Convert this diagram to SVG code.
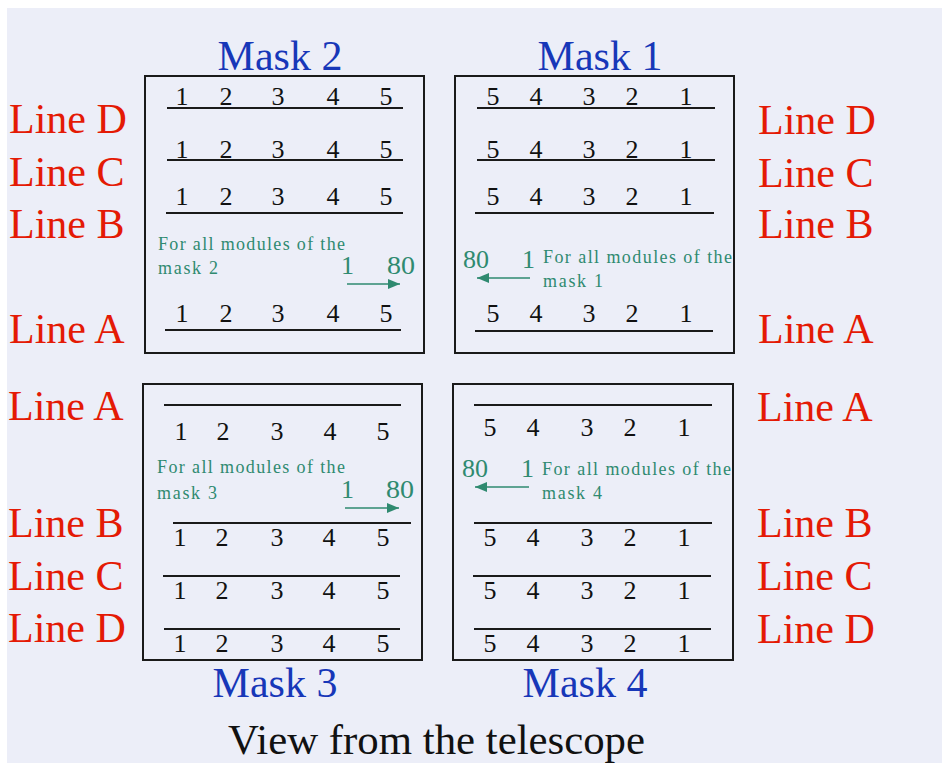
<svg xmlns="http://www.w3.org/2000/svg" width="942" height="763" viewBox="0 0 942 763">
<defs>
<style>
.lbl{font-family:"Liberation Serif","Times New Roman",serif;font-size:42px;fill:#e41a05}
.title{font-family:"Liberation Serif","Times New Roman",serif;font-size:42px;fill:#1737b8}
.d{font-family:"Liberation Serif","Times New Roman",serif;font-size:26px;fill:#111;text-anchor:middle}
.g{font-family:"Liberation Serif","Times New Roman",serif;font-size:18px;fill:#2f8a70}
.gn{font-family:"Liberation Serif","Times New Roman",serif;font-size:26px;fill:#2f8a70}
.box{fill:none;stroke:#1a1a1a;stroke-width:2}
.ln{stroke:#1a1a1a;stroke-width:2}
.arr{stroke:#2f8a70;stroke-width:1.5;fill:none}
</style>
<marker id="ah" viewBox="0 0 12 10" refX="12" refY="5" markerWidth="12" markerHeight="10" markerUnits="userSpaceOnUse" orient="auto">
<path d="M0,0 L12,5 L0,10 Z" fill="#2f8a70"/>
</marker>
</defs>
<rect x="0" y="0" width="942" height="763" fill="#ffffff"/>
<rect x="7" y="8" width="935" height="755" fill="#eceef8"/>

<g id="labels-left-top">
<text class="lbl" x="9" y="133">Line D</text>
<text class="lbl" x="9" y="186">Line C</text>
<text class="lbl" x="9" y="238">Line B</text>
<text class="lbl" x="9" y="343">Line A</text>
</g>
<g id="labels-right-top">
<text class="lbl" x="758" y="134">Line D</text>
<text class="lbl" x="758" y="187">Line C</text>
<text class="lbl" x="758" y="238">Line B</text>
<text class="lbl" x="758" y="343">Line A</text>
</g>
<g id="labels-left-bottom">
<text class="lbl" x="8" y="420">Line A</text>
<text class="lbl" x="8" y="537">Line B</text>
<text class="lbl" x="8" y="590">Line C</text>
<text class="lbl" x="8" y="642">Line D</text>
</g>
<g id="labels-right-bottom">
<text class="lbl" x="757" y="421">Line A</text>
<text class="lbl" x="757" y="537">Line B</text>
<text class="lbl" x="757" y="590">Line C</text>
<text class="lbl" x="757" y="643">Line D</text>
</g>

<g id="mask2">
<text class="title" x="280" y="70" text-anchor="middle">Mask 2</text>
<rect class="box" x="145" y="76" width="279" height="277"/>
<line class="ln" x1="167" y1="108" x2="403" y2="108"/>
<line class="ln" x1="167" y1="160" x2="403" y2="160"/>
<line class="ln" x1="166" y1="213" x2="403" y2="213"/>
<line class="ln" x1="165" y1="330" x2="401" y2="330"/>
<g class="d">
<text x="182" y="105">1</text><text x="226" y="105">2</text><text x="278" y="105">3</text><text x="333" y="105">4</text><text x="386" y="105">5</text>
<text x="182" y="158">1</text><text x="226" y="158">2</text><text x="278" y="158">3</text><text x="333" y="158">4</text><text x="386" y="158">5</text>
<text x="182" y="205">1</text><text x="226" y="205">2</text><text x="278" y="205">3</text><text x="333" y="205">4</text><text x="386" y="205">5</text>
<text x="182" y="322">1</text><text x="226" y="322">2</text><text x="278" y="322">3</text><text x="333" y="322">4</text><text x="386" y="322">5</text>
</g>
<text class="g" x="158" y="250" textLength="187" lengthAdjust="spacing">For all modules of the</text>
<text class="g" x="158" y="274" textLength="60" lengthAdjust="spacing">mask 2</text>
<text class="gn" x="341" y="274">1</text>
<text class="gn" x="387" y="274" textLength="28" lengthAdjust="spacingAndGlyphs">80</text>
</g>

<g id="mask1">
<text class="title" x="600" y="70" text-anchor="middle">Mask 1</text>
<rect class="box" x="455" y="76" width="279" height="277"/>
<line class="ln" x1="477" y1="108" x2="715" y2="108"/>
<line class="ln" x1="477" y1="160" x2="715" y2="160"/>
<line class="ln" x1="475" y1="213" x2="714" y2="213"/>
<line class="ln" x1="475" y1="331" x2="713" y2="331"/>
<g class="d">
<text x="493" y="105">5</text><text x="536" y="105">4</text><text x="589" y="105">3</text><text x="632" y="105">2</text><text x="686" y="105">1</text>
<text x="493" y="158">5</text><text x="536" y="158">4</text><text x="589" y="158">3</text><text x="632" y="158">2</text><text x="686" y="158">1</text>
<text x="493" y="205">5</text><text x="536" y="205">4</text><text x="589" y="205">3</text><text x="632" y="205">2</text><text x="686" y="205">1</text>
<text x="493" y="322">5</text><text x="536" y="322">4</text><text x="589" y="322">3</text><text x="632" y="322">2</text><text x="686" y="322">1</text>
</g>
<text class="gn" x="463" y="268" textLength="26" lengthAdjust="spacingAndGlyphs">80</text>
<text class="gn" x="522" y="268">1</text>
<text class="g" x="543" y="263" textLength="189" lengthAdjust="spacing">For all modules of the</text>
<text class="g" x="543" y="287" textLength="60" lengthAdjust="spacing">mask 1</text>
</g>

<g id="mask3">
<text class="title" x="275" y="697" text-anchor="middle">Mask 3</text>
<rect class="box" x="143" y="384" width="279" height="276"/>
<line class="ln" x1="164" y1="405" x2="401" y2="405"/>
<line class="ln" x1="173" y1="523" x2="411" y2="523"/>
<line class="ln" x1="163" y1="576" x2="400" y2="576"/>
<line class="ln" x1="164" y1="629" x2="400" y2="629"/>
<g class="d">
<text x="181" y="440">1</text><text x="223" y="440">2</text><text x="277" y="440">3</text><text x="330" y="440">4</text><text x="383" y="440">5</text>
<text x="180" y="546">1</text><text x="222" y="546">2</text><text x="277" y="546">3</text><text x="329" y="546">4</text><text x="383" y="546">5</text>
<text x="180" y="599">1</text><text x="222" y="599">2</text><text x="277" y="599">3</text><text x="329" y="599">4</text><text x="383" y="599">5</text>
<text x="180" y="652">1</text><text x="222" y="652">2</text><text x="277" y="652">3</text><text x="329" y="652">4</text><text x="383" y="652">5</text>
</g>
<text class="g" x="157" y="473" textLength="188" lengthAdjust="spacing">For all modules of the</text>
<text class="g" x="157" y="499" textLength="60" lengthAdjust="spacing">mask 3</text>
<text class="gn" x="341" y="498">1</text>
<text class="gn" x="386" y="498" textLength="28" lengthAdjust="spacingAndGlyphs">80</text>
</g>

<g id="mask4">
<text class="title" x="585" y="697" text-anchor="middle">Mask 4</text>
<rect class="box" x="453" y="384" width="280" height="276"/>
<line class="ln" x1="474" y1="405" x2="712" y2="405"/>
<line class="ln" x1="474" y1="523" x2="712" y2="523"/>
<line class="ln" x1="473" y1="576" x2="711" y2="576"/>
<line class="ln" x1="474" y1="629" x2="711" y2="629"/>
<g class="d">
<text x="490" y="436">5</text><text x="533" y="436">4</text><text x="587" y="436">3</text><text x="630" y="436">2</text><text x="684" y="436">1</text>
<text x="490" y="546">5</text><text x="533" y="546">4</text><text x="587" y="546">3</text><text x="630" y="546">2</text><text x="684" y="546">1</text>
<text x="490" y="599">5</text><text x="533" y="599">4</text><text x="587" y="599">3</text><text x="630" y="599">2</text><text x="684" y="599">1</text>
<text x="490" y="652">5</text><text x="533" y="652">4</text><text x="587" y="652">3</text><text x="630" y="652">2</text><text x="684" y="652">1</text>
</g>
<text class="gn" x="462" y="477" textLength="26" lengthAdjust="spacingAndGlyphs">80</text>
<text class="gn" x="521" y="477">1</text>
<text class="g" x="542" y="475" textLength="189" lengthAdjust="spacing">For all modules of the</text>
<text class="g" x="542" y="499" textLength="60" lengthAdjust="spacing">mask 4</text>
</g>

<g id="connectors">
<line class="arr" x1="347" y1="284" x2="400" y2="284" marker-end="url(#ah)"/>
<line class="arr" x1="530" y1="278" x2="477" y2="278" marker-end="url(#ah)"/>
<line class="arr" x1="345" y1="508" x2="399" y2="508" marker-end="url(#ah)"/>
<line class="arr" x1="529" y1="487" x2="475" y2="487" marker-end="url(#ah)"/>
</g>

<text x="228" y="754" style="font-family:'Liberation Serif','Times New Roman',serif;font-size:42px;fill:#111" textLength="417" lengthAdjust="spacingAndGlyphs">View from the telescope</text>
</svg>
